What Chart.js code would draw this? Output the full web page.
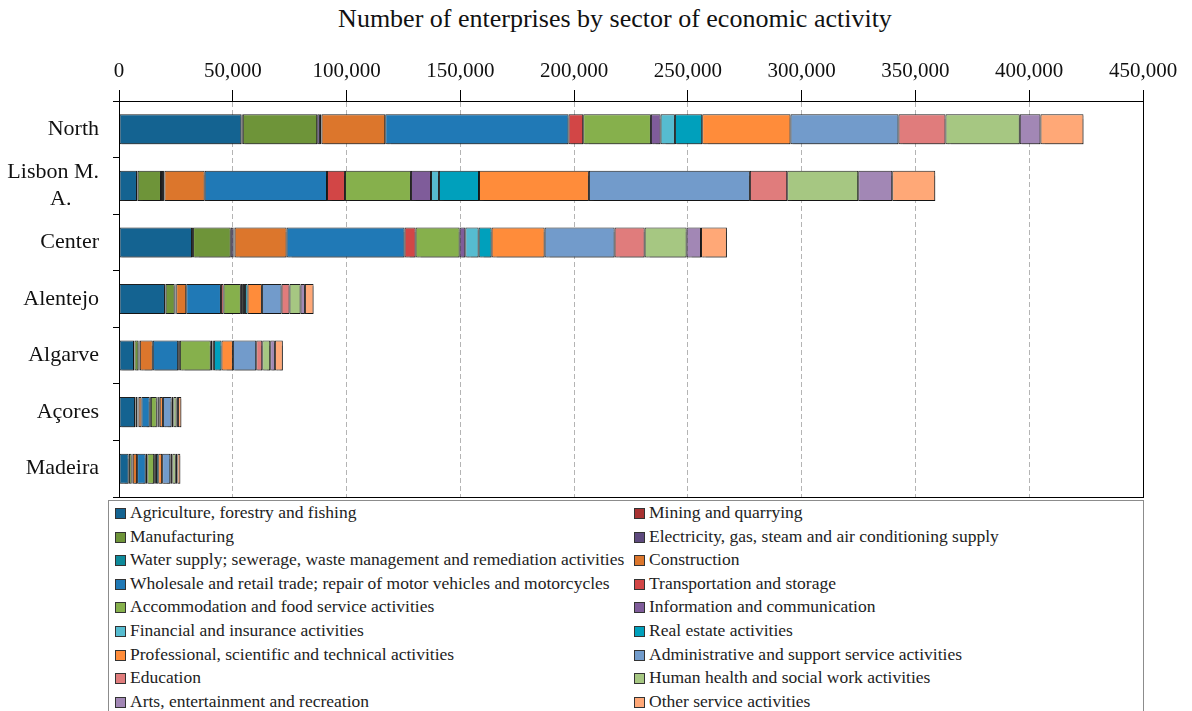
<!DOCTYPE html>
<html>
<head>
<meta charset="utf-8">
<script src="https://cdn.jsdelivr.net/npm/chart.js@4"></script>
<style>
    body { margin: 0; background: #fff; }
    .wrap { position: relative; width: 1192px; height: 711px; overflow: hidden; }
    #myChart { position: absolute; left: 0; top: 0; }
    .title { position: absolute; left: 0; top: 4px; width: 1230px; text-align: center;
        font-family: "Liberation Serif", serif; font-size: 26px; color: #111; }
    .legend { position: absolute; left: 108px; top: 500px; width: 1036px; height: 230px; border: 1px solid #8c8c8c;
        display: grid; grid-template-columns: 519px 500px; padding: 0 0 0 6px; box-sizing: border-box; align-content: start;
        font-family: "Liberation Serif", serif; font-size: 17.5px; color: #222; }
    .legend div { height: 23.6px; line-height: 23.6px; white-space: nowrap; }
    .legend span { display: inline-block; width: 9px; height: 9px; border: 1px solid #333; margin-right: 4px; vertical-align: -1px; }
</style>
</head>
<body>
<div class="wrap">
    <div class="title">Number of enterprises by sector of economic activity</div>
    <canvas id="myChart" width="1192" height="500"></canvas>
    <div class="legend" id="legend"></div>
</div>
<script>
const regions = ['North', ['Lisbon M.', 'A.     '], 'Center', 'Alentejo', 'Algarve', 'Açores', 'Madeira'];
const xTicks = [0, 50000, 100000, 150000, 200000, 250000, 300000, 350000, 400000, 450000];

const sectors = [
    'Agriculture, forestry and fishing',
    'Mining and quarrying',
    'Manufacturing',
    'Electricity, gas, steam and air conditioning supply',
    'Water supply; sewerage, waste management and remediation activities',
    'Construction',
    'Wholesale and retail trade; repair of motor vehicles and motorcycles',
    'Transportation and storage',
    'Accommodation and food service activities',
    'Information and communication',
    'Financial and insurance activities',
    'Real estate activities',
    'Professional, scientific and technical activities',
    'Administrative and support service activities',
    'Education',
    'Human health and social work activities',
    'Arts, entertainment and recreation',
    'Other service activities'
];
const colors = ['#146391', '#a83232', '#6e9439', '#5e4a7e', '#0e8a9a', '#dc762c', '#2079b6', '#d24646', '#86b04c',
    '#7f5c9a', '#56bcd0', '#00a0bc', '#ff8c3a', '#729bcb', '#e07c7c', '#a6c782', '#a287b5', '#ffa877'];

// values per sector, in region order: North, Lisbon, Center, Alentejo, Algarve, Açores, Madeira
const agriculture   = [53800, 7900, 32100, 20200, 6600, 7050, 4250];
const mining        = [600, 300, 450, 300, 200, 150, 100];
const manufacturing = [32700, 10250, 16550, 3950, 1750, 900, 1200];
const electricity   = [1200, 900, 1200, 400, 300, 200, 200];
const water         = [700, 600, 500, 300, 300, 300, 300];
const construction  = [28000, 17700, 22850, 4400, 5700, 1300, 1900];
const wholesale     = [80550, 53750, 51850, 15250, 11150, 3600, 3800];
const transport     = [6450, 7900, 4850, 1150, 750, 500, 700];
const accommodation = [29750, 29000, 19350, 7600, 13600, 2600, 3000];
const information   = [4250, 8800, 2500, 900, 750, 300, 400];
const financial     = [6300, 3500, 5850, 900, 600, 300, 400];
const realEstate    = [12000, 17600, 5700, 1150, 3350, 700, 1000];
const professional  = [38800, 48300, 23300, 6300, 5000, 1400, 1700];
const administrative = [47450, 70750, 30750, 8650, 10250, 3800, 3600];
const education     = [20650, 16400, 13200, 3500, 2650, 800, 900];
const health        = [32650, 31200, 18450, 4850, 3500, 1400, 1500];
const arts          = [9100, 14950, 6300, 1900, 2050, 600, 700];
const other         = [18900, 18900, 11400, 3800, 3500, 1500, 1300];

const values = [agriculture, mining, manufacturing, electricity, water, construction, wholesale, transport, accommodation,
    information, financial, realEstate, professional, administrative, education, health, arts, other];

const datasets = sectors.map((name, i) => {
    return {
        label: name,
        data: values[i],
        backgroundColor: colors[i],
        borderColor: '#1e1e1e',
        borderWidth: 1,
        borderSkipped: false,
        barPercentage: 0.9,
        categoryPercentage: 0.59
    };
});

// light grey drop shadow under the bars, and the right / bottom edge of the plot
const frame = {
    id: 'frame',
    beforeDatasetsDraw(chart) {
        const ctx = chart.ctx;
        ctx.save();
        ctx.shadowColor = 'rgba(0, 0, 0, 0.3)';
        ctx.shadowOffsetX = 2;
        ctx.shadowOffsetY = 2;
        ctx.shadowBlur = 1;
    },
    afterDatasetsDraw(chart) {
        chart.ctx.restore();
    },
    afterDraw(chart) {
        const a = chart.chartArea;
        const ctx = chart.ctx;
        ctx.save();
        ctx.strokeStyle = '#000';
        ctx.lineWidth = 1;
        ctx.strokeRect(Math.round(a.left) + 0.5, Math.round(a.top) + 0.5, Math.round(a.right - a.left), Math.round(a.bottom - a.top));
        ctx.restore();
    }
};

Chart.defaults.font.family = '"Liberation Serif", serif';
Chart.defaults.color = '#111';

const ctx = document.getElementById('myChart');
const chart = new Chart(ctx, {
    type: 'bar',
    data: {
        labels: regions,
        datasets: datasets
    },
    options: {
        indexAxis: 'y',
        responsive: false,
        animation: false,
        layout: {
            padding: { left: 0, right: 49, top: 34, bottom: 3 }
        },
        plugins: {
            legend: { display: false },
            tooltip: { enabled: false }
        },
        scales: {
            x: {
                position: 'top',
                stacked: true,
                min: 0,
                max: 450000,
                afterBuildTicks: (scale) => {
                    scale.ticks = xTicks.map((v) => ({ value: v }));
                },
                afterFit: (scale) => {
                    scale.height = 67;
                },
                ticks: {
                    font: { size: 21 },
                    padding: 6,
                    maxRotation: 0,
                    callback: (v) => v.toLocaleString('en-US')
                },
                grid: {
                    color: '#b4b4b4',
                    tickColor: '#000',
                    tickLength: 11,
                    tickBorderDash: []
                },
                border: { display: true, color: '#000', width: 1, dash: [5, 3] }
            },
            y: {
                stacked: true,
                afterFit: (scale) => {
                    scale.width = 119;
                    scale.paddingTop = 0;
                    scale.paddingBottom = 0;
                },
                ticks: {
                    font: { size: 22 },
                    padding: 14,
                    autoSkip: false
                },
                grid: {
                    offset: true,
                    drawOnChartArea: false,
                    drawTicks: true,
                    tickLength: 6,
                    tickColor: '#000'
                },
                border: { display: true, color: '#000', width: 1 }
            }
        }
    },
    plugins: [frame]
});

// legend in two columns, built from the chart datasets
const legendBox = document.getElementById('legend');
chart.data.datasets.forEach((ds) => {
    const item = document.createElement('div');
    const swatch = document.createElement('span');
    swatch.style.background = ds.backgroundColor;
    item.appendChild(swatch);
    item.appendChild(document.createTextNode(ds.label));
    legendBox.appendChild(item);
});
</script>
</body>
</html>
